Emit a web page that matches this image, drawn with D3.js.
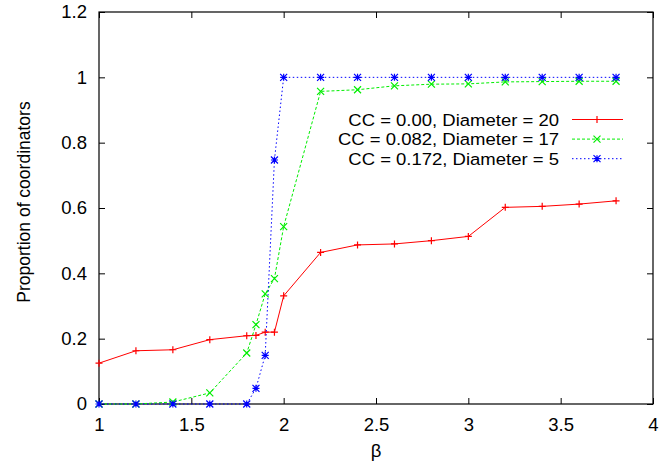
<!DOCTYPE html>
<html>
<head>
<meta charset="utf-8">
<script src="https://cdn.jsdelivr.net/npm/d3@7"></script>
<style>
  html, body { margin: 0; padding: 0; background: #fff; }
  svg { display: block; }
  text { font-family: "Liberation Sans", Arial, sans-serif; fill: #000; }
</style>
</head>
<body>
<svg id="chart" width="659" height="463"></svg>
<script>
// β values sampled for every series
const betas = [1.0, 1.2, 1.4, 1.6, 1.8, 1.85, 1.9, 1.95, 2.0, 2.2, 2.4, 2.6, 2.8, 3.0, 3.2, 3.4, 3.6, 3.8];

// Proportion of coordinators for each network
const ccZero = [0.125, 0.163, 0.166, 0.197, 0.209, 0.21, 0.22, 0.22, 0.331, 0.464, 0.487, 0.49, 0.5, 0.513, 0.602, 0.605, 0.612, 0.622];
const ccMid = [0.0, 0.0, 0.006, 0.034, 0.156, 0.243, 0.337, 0.384, 0.543, 0.957, 0.962, 0.974, 0.979, 0.98, 0.986, 0.987, 0.988, 0.988];
const ccHigh = [0.0, 0.0, 0.0, 0.0, 0.0, 0.048, 0.149, 0.747, 1.0, 1.0, 1.0, 1.0, 1.0, 1.0, 1.0, 1.0, 1.0, 1.0];

const seriesNames = ["CC = 0.00, Diameter = 20", "CC = 0.082, Diameter = 17", "CC = 0.172, Diameter = 5"];

const xTicks = [1, 1.5, 2, 2.5, 3, 3.5, 4];
const yTicks = [0, 0.2, 0.4, 0.6, 0.8, 1, 1.2];

const xTitle = "β";
const yTitle = "Proportion of coordinators";

const series = [
  { name: seriesNames[0], values: ccZero, color: "#ff0000", dash: null, marker: "plus" },
  { name: seriesNames[1], values: ccMid, color: "#00ee00", dash: "3,2", marker: "cross" },
  { name: seriesNames[2], values: ccHigh, color: "#0000ff", dash: "1.5,2.5", marker: "star" }
];

const svg = d3.select("#chart");
const plot = { left: 99, right: 653, top: 12, bottom: 404 };

const x = d3.scaleLinear().domain([1, 4]).range([plot.left, plot.right]);
const y = d3.scaleLinear().domain([0, 1.2]).range([plot.bottom, plot.top]);

const fmt = d => String(+d.toFixed(1));
const tickLen = 6;
const labelSize = 18.5;

// Axes with inward ticks, mirrored on the top and right edges
const gBottom = svg.append("g").attr("transform", `translate(0,${plot.bottom})`)
  .call(d3.axisBottom(x).tickValues(xTicks).tickFormat(fmt).tickSizeInner(-tickLen).tickSizeOuter(0).tickPadding(14));
const gTop = svg.append("g").attr("transform", `translate(0,${plot.top})`)
  .call(d3.axisTop(x).tickValues(xTicks).tickFormat("").tickSizeInner(-tickLen).tickSizeOuter(0));
const gLeft = svg.append("g").attr("transform", `translate(${plot.left},0)`)
  .call(d3.axisLeft(y).tickValues(yTicks).tickFormat(fmt).tickSizeInner(-tickLen).tickSizeOuter(0).tickPadding(12));
const gRight = svg.append("g").attr("transform", `translate(${plot.right},0)`)
  .call(d3.axisRight(y).tickValues(yTicks).tickFormat("").tickSizeInner(-tickLen).tickSizeOuter(0));

[gBottom, gTop, gLeft, gRight].forEach(g => {
  g.select(".domain").remove();
  g.selectAll(".tick line").attr("stroke", "#000").attr("stroke-width", 1);
  g.selectAll(".tick text").attr("font-size", labelSize).style("font-family", "'Liberation Sans', Arial, sans-serif");
});

// Plot frame
svg.append("rect")
  .attr("x", plot.left).attr("y", plot.top)
  .attr("width", plot.right - plot.left).attr("height", plot.bottom - plot.top)
  .attr("fill", "none").attr("stroke", "#000").attr("stroke-width", 1.2);

// Axis titles
svg.append("text")
  .attr("x", (plot.left + plot.right) / 2).attr("y", 457)
  .attr("text-anchor", "middle").attr("font-size", 18.5)
  .text(xTitle);
svg.append("text")
  .attr("transform", `translate(24,${(plot.top + plot.bottom) / 2 - 6}) rotate(-90)`)
  .attr("text-anchor", "middle").attr("dy", "0.35em").attr("font-size", 17.5)
  .text(yTitle);

// Point markers in the gnuplot style
function drawMarker(g, cx, cy, type, color) {
  const s = 3.5;
  const p = d3.path();
  if (type === "plus" || type === "star") {
    p.moveTo(cx - s, cy); p.lineTo(cx + s, cy);
    p.moveTo(cx, cy - s); p.lineTo(cx, cy + s);
  }
  if (type === "cross" || type === "star") {
    p.moveTo(cx - s, cy - s); p.lineTo(cx + s, cy + s);
    p.moveTo(cx - s, cy + s); p.lineTo(cx + s, cy - s);
  }
  g.append("path").attr("d", p.toString())
    .attr("stroke", color).attr("stroke-width", 1.2).attr("fill", "none");
}

const line = d3.line().x(d => x(d[0])).y(d => y(d[1]));

series.forEach(s => {
  const pts = betas.map((b, i) => [b, s.values[i]]);
  const g = svg.append("g");
  g.append("path").datum(pts)
    .attr("d", line)
    .attr("fill", "none")
    .attr("stroke", s.color)
    .attr("stroke-width", 1)
    .attr("stroke-dasharray", s.dash);
  pts.forEach(p => drawMarker(g, x(p[0]), y(p[1]), s.marker, s.color));
});

// Legend: slightly condensed font so the tightly stacked rows stay clear of each other
const legendSize = 17.4;
const legend = svg.append("g");
series.forEach((s, i) => {
  const ly = 119.5 + i * 19.6;
  const t = legend.append("text")
    .attr("x", 559).attr("y", ly).attr("dy", "0.35em")
    .attr("text-anchor", "end").attr("font-size", legendSize)
    .text(s.name);
  const natural = t.node().getComputedTextLength();
  t.attr("textLength", natural * labelSize / legendSize).attr("lengthAdjust", "spacingAndGlyphs");
  legend.append("line")
    .attr("x1", 572).attr("x2", 623).attr("y1", ly).attr("y2", ly)
    .attr("stroke", s.color).attr("stroke-width", 1)
    .attr("stroke-dasharray", s.dash);
  drawMarker(legend, 597, ly, s.marker, s.color);
});
</script>
</body>
</html>
